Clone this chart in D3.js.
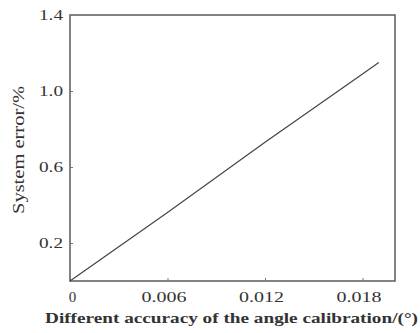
<!DOCTYPE html>
<html>
<head>
<meta charset="utf-8">
<script src="https://cdn.jsdelivr.net/npm/d3@7"></script>
<style>
  body { margin: 0; background: #fff; }
  svg text { font-family: "Liberation Serif", "DejaVu Serif", serif; fill: #333; }
</style>
</head>
<body>
<div id="chart"></div>
<script>
// readings
var accuracy = [0, 0.006, 0.012, 0.018, 0.019];
var sysError = [0, 0.36, 0.73, 1.09, 1.15];
var xTicks = [0, 0.006, 0.012, 0.018];
var xTickLabels = ["0", "0.006", "0.012", "0.018"];
var yTicks = [0.2, 0.6, 1.0, 1.4];
var yTickLabels = ["0.2", "0.6", "1.0", "1.4"];

var svg = d3.select("#chart").append("svg").attr("width", 420).attr("height", 333),
    margin = {top: 15, right: 25, bottom: 52, left: 70},
    width = 420 - margin.left - margin.right,
    height = 333 - margin.top - margin.bottom,
    g = svg.append("g").attr("transform", "translate(" + margin.left + "," + margin.top + ")");

var x = d3.scaleLinear().domain([0, 0.02]).range([0, width]);
var y = d3.scaleLinear().domain([0, 1.4]).range([height, 0]);

// the scan is stretched sideways, so widen the glyphs a bit
function stretch(sel, perChar, shift) {
    sel.each(function () {
        var n = this.textContent.length;
        if (n > 1) {
            d3.select(this).attr("textLength", n * perChar).attr("lengthAdjust", "spacingAndGlyphs");
            if (shift) d3.select(this).attr("dx", shift);
        } else if (shift) {
            d3.select(this).attr("dx", 2);
        }
    });
}

// frame
g.append("rect")
    .attr("width", width)
    .attr("height", height)
    .attr("fill", "none")
    .attr("stroke", "#5a5a5a")
    .attr("stroke-width", 1.5);

var xAxis = g.append("g")
    .attr("transform", "translate(0," + height + ")")
    .call(d3.axisBottom(x).tickValues(xTicks).tickSize(-3).tickPadding(10)
        .tickFormat(function (d, i) { return xTickLabels[i]; }));
xAxis.select(".domain").remove();
xAxis.selectAll("line").attr("stroke", "#777");
xAxis.selectAll("text").attr("font-size", 15).attr("fill", "#333").call(stretch, 9, -4);

var yAxis = g.append("g")
    .call(d3.axisLeft(y).tickValues(yTicks).tickSize(-3).tickPadding(7)
        .tickFormat(function (d, i) { return yTickLabels[i]; }));
yAxis.select(".domain").remove();
yAxis.selectAll("line").attr("stroke", "#777");
yAxis.selectAll("text").attr("font-size", 15).attr("fill", "#333").call(stretch, 8);

var line = d3.line()
    .x(function (d, i) { return x(accuracy[i]); })
    .y(function (d) { return y(d); });

g.append("path")
    .datum(sysError)
    .attr("d", line)
    .attr("fill", "none")
    .attr("stroke", "#444")
    .attr("stroke-width", 1.2);

svg.append("text")
    .attr("x", 45)
    .attr("y", 323)
    .attr("font-size", 15.5)
    .attr("font-weight", "bold")
    .attr("textLength", 373)
    .attr("lengthAdjust", "spacingAndGlyphs")
    .text("Different accuracy of the angle calibration/(°)");

svg.append("text")
    .attr("transform", "translate(24,150) rotate(-90)")
    .attr("text-anchor", "middle")
    .attr("font-size", 16)
    .attr("textLength", 128)
    .attr("lengthAdjust", "spacingAndGlyphs")
    .text("System error/%");
</script>
</body>
</html>
